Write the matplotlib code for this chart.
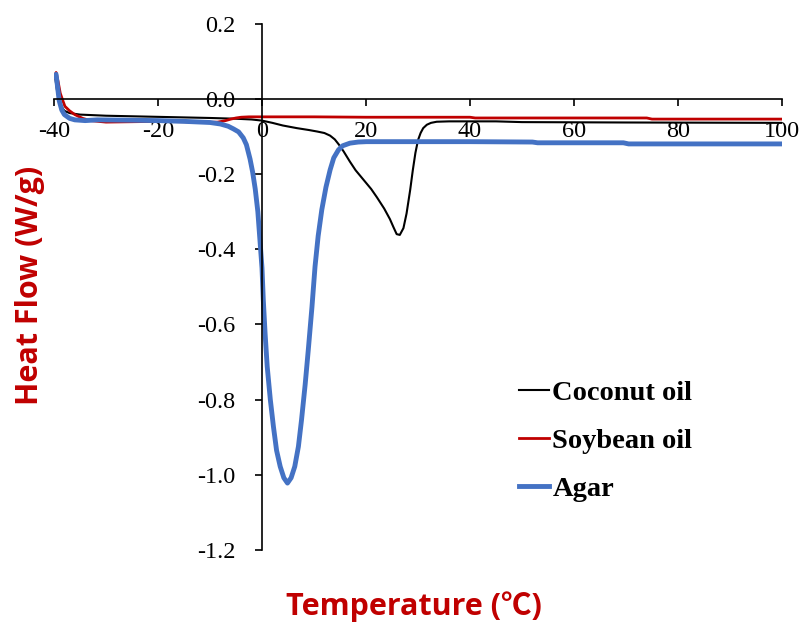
import numpy as np
import matplotlib
matplotlib.use("Agg")
from matplotlib import pyplot as plt

# datos (DSC)
coconut_x = [-39.7, -39.4, -39.0, -38.5, -38.0, -37.0, -35.0, -30.0, -20.0, -10.0, -5.0, -2.0, 0.0,
             2.0, 4.0, 6.7, 9.0, 10.6, 12.0, 13.1, 14.0, 14.8, 15.7, 16.9, 18.0, 19.5, 21.0, 22.1,
             23.5, 24.6, 25.3, 25.9, 26.5, 27.2, 27.8, 28.5, 29.0, 29.5, 30.0, 30.5, 31.0, 31.7,
             32.5, 33.6, 36.0, 45.0, 50.0, 70.0, 100.0]
coconut_y = [0.05, 0.02, -0.005, -0.022, -0.032, -0.038, -0.042, -0.045, -0.048, -0.051, -0.053, -0.055, -0.058,
             -0.064, -0.071, -0.078, -0.083, -0.087, -0.091, -0.098, -0.108, -0.122, -0.140, -0.167, -0.190, -0.215, -0.240, -0.262,
             -0.292, -0.320, -0.342, -0.360, -0.362, -0.344, -0.305, -0.242, -0.190, -0.144, -0.110, -0.091, -0.078, -0.069,
             -0.064, -0.061, -0.060, -0.060, -0.062, -0.063, -0.064]

soy_x = [-39.8, -39.6, -39.2, -38.8, -38.3, -37.9, -37.0, -36.0, -34.5, -33.0, -30.0, -25.0, -20.0,
         -15.0, -11.0, -8.5, -7.0, -6.0, -5.0, -4.0, -2.5, 0.0, 10.0, 20.0, 40.0, 41.0, 74.0, 75.0, 100.0]
soy_y = [0.055, 0.070, 0.045, 0.015, -0.005, -0.020, -0.032, -0.042, -0.052, -0.058, -0.062, -0.061, -0.060,
         -0.061, -0.063, -0.062, -0.058, -0.054, -0.051, -0.049, -0.048, -0.048, -0.048, -0.049, -0.049, -0.051,
         -0.051, -0.054, -0.054]

agar_x = [-39.8, -39.6, -39.3, -39.0, -38.5, -38.0, -37.0, -36.0, -34.0, -31.7, -25.0, -20.0, -15.0,
          -10.0, -8.0, -6.5, -5.5, -4.5, -3.6, -3.0, -2.3, -1.8, -1.3, -0.8, -0.4, 0.0, 0.25, 0.6, 1.0,
          1.6, 2.2, 2.8, 3.5, 4.2, 4.9, 5.6, 6.3, 7.0, 7.6, 8.3, 8.9, 9.6, 10.2, 10.8, 11.5, 12.3, 13.1,
          13.8, 14.7, 15.5, 16.9, 18.5, 20.1, 30.0, 40.0, 52.0, 53.0, 69.5, 70.5, 100.0]
agar_y = [0.06, 0.065, 0.03, -0.005, -0.030, -0.042, -0.052, -0.056, -0.058, -0.056, -0.057, -0.058, -0.060,
          -0.063, -0.067, -0.073, -0.080, -0.088, -0.104, -0.122, -0.160, -0.195, -0.240, -0.300, -0.375, -0.45,
          -0.535, -0.625, -0.712, -0.800, -0.872, -0.935, -0.978, -1.008, -1.022, -1.008, -0.978, -0.925, -0.854,
          -0.760, -0.668, -0.555, -0.446, -0.365, -0.295, -0.235, -0.189, -0.157, -0.136, -0.125, -0.118, -0.115,
          -0.114, -0.114, -0.114, -0.115, -0.117, -0.117, -0.120, -0.120]

series_names = ["Coconut oil", "Soybean oil", "Agar"]
x_ticks = [-40, -20, 0, 20, 40, 60, 80, 100]
y_ticks = [-1.2, -1.0, -0.8, -0.6, -0.4, -0.2, 0.0, 0.2]

W, H = 807, 628
fig = plt.figure(figsize=(W / 100, H / 100), dpi=100)
ax = fig.add_axes([54 / W, 1 - 550 / H, (782 - 54) / W, (550 - 23.6) / H])

ax.plot(coconut_x, coconut_y, color="black", lw=1.5, label=series_names[0])
ax.plot(soy_x, soy_y, color="#C00000", lw=2.0, label=series_names[1])
ax.plot(agar_x, agar_y, color="#4472C4", lw=3.5, label=series_names[2])

ax.set_xlim(-40, 100)
ax.set_ylim(-1.2, 0.2)

# ejes cruzando en el origen, como en Excel
ax.spines["left"].set_position(("data", 0))
ax.spines["bottom"].set_position(("data", 0))
ax.spines["top"].set_visible(False)
ax.spines["right"].set_visible(False)
for s in ("left", "bottom"):
    ax.spines[s].set_linewidth(1.2)

tick_font = dict(family="Liberation Serif", size=17.5)
ax.set_xticks(x_ticks, [str(v) for v in x_ticks], **tick_font)
ax.set_yticks(y_ticks, ["%.1f" % v for v in y_ticks], **tick_font)
ax.tick_params(axis="x", direction="out", length=5, width=1.2, pad=11)
ax.tick_params(axis="y", direction="out", length=5, width=1.2, pad=14)

leg = ax.legend(loc="upper left", bbox_to_anchor=(519 / W, 1 - 380 / H), bbox_transform=fig.transFigure,
                frameon=False, borderpad=0, borderaxespad=0, handlelength=1.05, handletextpad=0.12,
                labelspacing=0.78, prop=dict(family="Liberation Serif", weight="bold", size=20.5))

label_font = ["Open Sans", "Noto Sans CJK SC", "DejaVu Sans"]
fig.text(30 / W, 1 - 285 / H, "Heat Flow (W/g)", rotation=90, ha="center", va="center",
         color="#C00000", fontsize=22, fontweight="bold", family=label_font)
fig.text(414 / W, 1 - 607 / H, "Temperature (℃)", ha="center", va="center",
         color="#C00000", fontsize=22, fontweight="bold", family=label_font)

fig.savefig("out.png", dpi=100)
